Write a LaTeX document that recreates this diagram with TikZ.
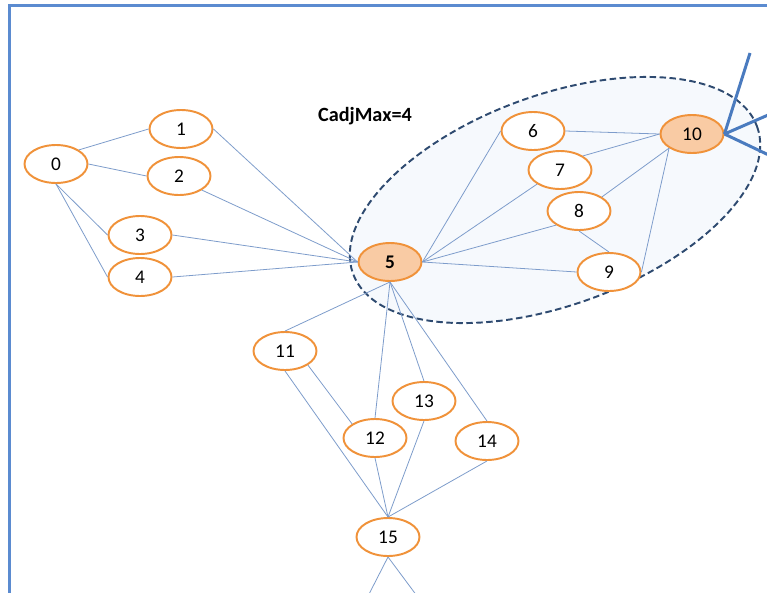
\documentclass[tikz,border=0pt]{standalone}
\usepackage{fontspec}
\setmainfont{Carlito}
\usepackage{tikz}
\usetikzlibrary{shapes.geometric}

\definecolor{nodeorange}{HTML}{F0923A}
\definecolor{hubfill}{HTML}{F9CBA4}
\definecolor{linkblue}{HTML}{7D9CCB}
\definecolor{frameblue}{HTML}{5B8BD0}
\definecolor{groupdash}{HTML}{2E4A70}
\definecolor{groupfill}{HTML}{F6F9FD}
\definecolor{boldblue}{HTML}{4A7BBF}

\begin{document}
\begin{tikzpicture}[
    x=0.02cm, y=-0.02cm,
    vertex/.style={ellipse, draw=nodeorange, line width=1.1pt, fill=white,
        minimum width=1.26cm, minimum height=0.76cm, inner sep=0pt,
        font=\fontsize{11}{13}\selectfont},
    hub/.style={vertex, fill=hubfill, font=\fontsize{11}{13}\selectfont\bfseries},
    link/.style={linkblue, line width=0.45pt},
    boldlink/.style={boldblue, line width=1.7pt},
    group/.style={draw=groupdash, fill=groupfill, line width=1.1pt,
        dash pattern=on 0.13cm off 0.07cm},
    frame/.style={draw=frameblue, line width=1.3pt}
]
\useasboundingbox (0,0) rectangle (767,592);
\clip (0,0) rectangle (767,592);
\fill[white] (0,0) rectangle (767,592);
\draw[frame] (9.5,620) -- (9.5,5.5) -- (800,5.5);

% neighbourhood of the hub
\draw[group, rotate around={20:(555,200)}] (555,200) ellipse [x radius=215, y radius=105];
\node[font=\fontsize{11.5}{13}\selectfont\bfseries] (cmax) at (365,116) {CadjMax=4};

% vertices
\node[vertex] (n0) at (56,164) {0};
\node[vertex] (n1) at (181,129) {1};
\node[vertex] (n2) at (179,176) {2};
\node[vertex] (n3) at (140,235) {3};
\node[vertex] (n4) at (140,277) {4};
\node[hub] (n5) at (390,262) {5};
\node[vertex] (n6) at (533,131) {6};
\node[vertex] (n7) at (560,170) {7};
\node[vertex] (n8) at (579,211) {8};
\node[vertex] (n9) at (609,272) {9};
\node[hub, font=\fontsize{11}{13}\selectfont] (n10) at (692,134) {10};
\node[vertex] (n11) at (285,351) {11};
\node[vertex] (n12) at (375,438) {12};
\node[vertex] (n13) at (424,401) {13};
\node[vertex] (n14) at (487,441) {14};
\node[vertex] (n15) at (388,537) {15};

% loose ends
\coordinate (out1) at (750,53);
\coordinate (out2) at (775,112);
\coordinate (out3) at (775,158);
\coordinate (down1) at (366,600);
\coordinate (down2) at (420,600);

% edges
\draw[link] (n0.north east) -- (n1.west);
\draw[link] (n0.east) -- (n2.west);
\draw[link] (n0.south) -- (n3.west);
\draw[link] (n0.south) -- (n4.west);
\foreach \s/\a in {n1/east, n2/south east, n3/east, n4/east}
    \draw[link] (\s.\a) -- (n5.west);
\draw[link] (n5.east) -- (n6.west);
\draw[link] (n5.east) -- (n7.south west);
\draw[link] (n5.east) -- (n8.south west);
\draw[link] (n5.east) -- (n9.west);
\draw[link] (n8.south) -- (n9.north);
\draw[link] (n6.east) -- (n10.west);
\draw[link] (n7.north east) -- (n10.west);
\draw[link] (n8.north east) -- (n10.south west);
\draw[link] (n9.east) -- (n10.south west);
\foreach \t in {n11, n12, n13, n14}
    \draw[link] (n5.south) -- (\t.north);
\draw[link] (n11.south east) -- (n12.north west);
\foreach \s in {n11, n12, n13, n14}
    \draw[link] (\s.south) -- (n15.north);
\draw[link] (n15.south) -- (down1);
\draw[link] (n15.south) -- (down2);
\foreach \t in {out1, out2, out3}
    \draw[boldlink] (n10.east) -- (\t);
\end{tikzpicture}
\end{document}
